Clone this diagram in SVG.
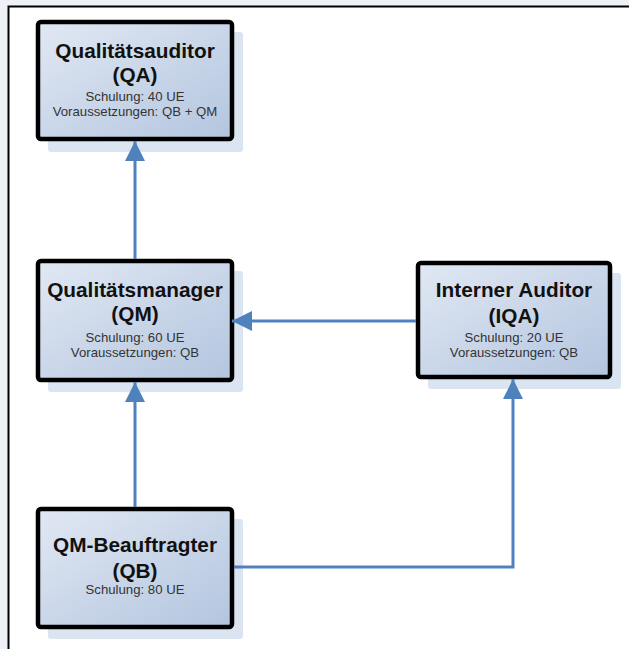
<svg xmlns="http://www.w3.org/2000/svg" width="629" height="649" viewBox="0 0 629 649">
<defs>
<linearGradient id="fill" x1="0" y1="0" x2="1" y2="1">
<stop offset="0" stop-color="#e1e8f3"/>
<stop offset="1" stop-color="#b3c5df"/>
</linearGradient>
<marker id="arr" viewBox="0 0 20 20" refX="20" refY="10" markerWidth="20" markerHeight="20" markerUnits="userSpaceOnUse" orient="auto">
<path d="M0,0 L20,10 L0,20 Z" fill="#4f81bd"/>
</marker>
<style>
.shadow{fill:#dbe4f1}
.box{fill:url(#fill);stroke:#000;stroke-width:4.5}
.title{font-family:"Liberation Sans",Arial,sans-serif;font-weight:bold;font-size:20.8px;fill:#111;text-anchor:middle}
.sub{font-family:"Liberation Sans",Arial,sans-serif;font-size:13.2px;fill:#333;text-anchor:middle}
.conn{fill:none;stroke:#4f81bd;stroke-width:3}
</style>
</defs>
<rect x="0" y="0" width="629" height="649" fill="#eef2f6"/>
<rect x="9" y="7" width="620" height="642" fill="#fff"/>
<path d="M8.5,649 V6.5 H629" fill="none" stroke="#000" stroke-width="2"/>
<g id="QA">
<rect class="shadow" x="48" y="32" width="195" height="120" rx="3"/>
<rect class="box" x="38" y="22" width="194" height="117" rx="3"/>
<text class="title" x="135" y="58">Qualitätsauditor</text>
<text class="title" x="135" y="82">(QA)</text>
<text class="sub" x="135" y="101">Schulung: 40 UE</text>
<text class="sub" x="135" y="116">Voraussetzungen: QB + QM</text>
</g>
<g id="QM">
<rect class="shadow" x="48" y="271" width="195" height="121" rx="3"/>
<rect class="box" x="38" y="261" width="194" height="119" rx="3"/>
<text class="title" x="135" y="297">Qualitätsmanager</text>
<text class="title" x="135" y="321">(QM)</text>
<text class="sub" x="135" y="342">Schulung: 60 UE</text>
<text class="sub" x="135" y="357">Voraussetzungen: QB</text>
</g>
<g id="IQA">
<rect class="shadow" x="428" y="273" width="193" height="116" rx="3"/>
<rect class="box" x="418" y="263" width="192" height="114" rx="3"/>
<text class="title" x="514" y="297">Interner Auditor</text>
<text class="title" x="514" y="323">(IQA)</text>
<text class="sub" x="514" y="342">Schulung: 20 UE</text>
<text class="sub" x="514" y="357">Voraussetzungen: QB</text>
</g>
<g id="QB">
<rect class="shadow" x="48" y="519" width="195" height="120" rx="3"/>
<rect class="box" x="38" y="509" width="194" height="118" rx="3"/>
<text class="title" x="135" y="552">QM-Beauftragter</text>
<text class="title" x="135" y="578">(QB)</text>
<text class="sub" x="135" y="594">Schulung: 80 UE</text>
</g>
<g id="connectors">
<path class="conn" d="M135,507 V382" marker-end="url(#arr)"/>
<path class="conn" d="M135,259 V141" marker-end="url(#arr)"/>
<path class="conn" d="M416,321 H232" marker-end="url(#arr)"/>
<path class="conn" d="M234,567 H513 V379" marker-end="url(#arr)"/>
</g>
</svg>
